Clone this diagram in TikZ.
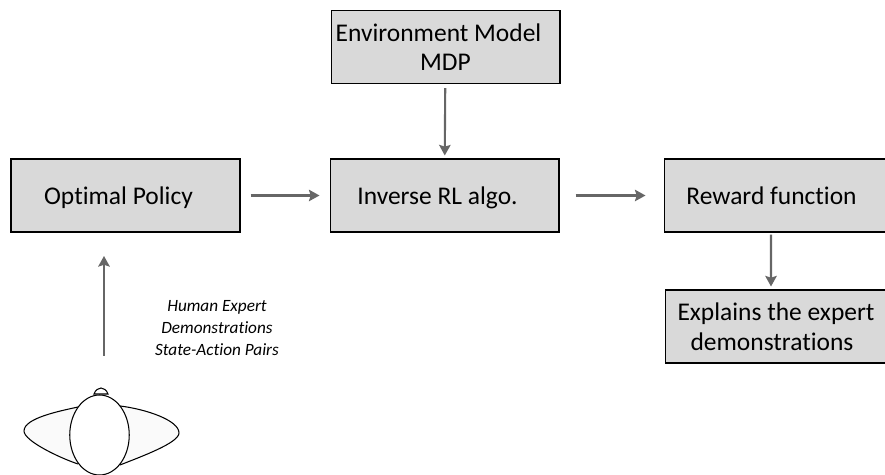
\documentclass[tikz,border=0pt]{standalone}
\usepackage{fontspec}
\setmainfont[Ligatures=NoCommon]{Carlito}
\usetikzlibrary{arrows.meta,shapes.geometric}
\begin{document}
\begin{tikzpicture}[x=0.02cm,y=0.02cm,
    block/.style={draw=black,fill=black!15,line width=0.6pt,minimum width=4.58cm,minimum height=1.46cm,inner sep=0pt,align=center,font=\fontsize{14.5}{16.8}\selectfont},
    oneline/.style={block,text height=12.7pt,text depth=3pt},
    flow/.style={draw=black!60,line width=1.2pt,-{Stealth[length=6pt,width=6.5pt,inset=1pt]}}]
    \useasboundingbox (0,0) rectangle (885,-475);
    \node [oneline] (policy) at (125.5,-195.5) {Optimal Policy\hspace*{0.28cm}};
    \node [block] (model) at (445.5,-47) {Environment Model\hspace*{0.28cm}\\MDP};
    \node [oneline] (irl) at (444.5,-195.5) {Inverse RL algo.\hspace*{0.28cm}};
    \node [oneline] (reward) at (778.5,-195.5) {Reward function\hspace*{0.28cm}};
    \node [block] (explain) at (779.5,-326.5) {Explains the expert\hspace*{0.14cm}\\demonstrations\hspace*{0.3cm}};
    % person seen from above
    \draw [black,fill=black!2,line width=0.6pt] (78,-407) .. controls (60,-411) and (24,-418) .. (24,-431) .. controls (24,-441) and (60,-458) .. (78,-464);
    \draw [black,fill=black!2,line width=0.6pt] (120,-406) .. controls (145,-409) and (179,-420) .. (179,-433) .. controls (179,-443) and (140,-457) .. (120,-465);
    \draw [black,fill=white,line width=0.6pt] (94,-394) .. controls (97,-386) and (105,-386) .. (108,-394) -- cycle;
    \node [draw=black,fill=white,ellipse,line width=0.6pt,minimum width=1.19cm,minimum height=1.6cm,inner sep=0pt] (head) at (99.5,-435) {};
    \node [align=center,inner sep=0pt,font=\fontsize{9.8}{12.4}\selectfont\itshape] (note) at (217,-328) {Human Expert\\Demonstrations\\State-Action Pairs};
    \coordinate (start) at (104,-356);
    \coordinate (end) at (104,-256);
    % connectors
    \draw [flow,line width=1.7pt] (start) -- (end);
    \draw [flow,shorten <=0.2cm,shorten >=0.2cm] (policy) -- (irl);
    \draw [flow,shorten <=0.08cm,shorten >=0.06cm] (model) -- (irl);
    \draw [flow,shorten <=0.32cm,shorten >=0.36cm] (irl) -- (reward);
    \draw [flow,shorten <=0.04cm,shorten >=0.06cm] ([xshift=-0.15cm]reward.south) -- ([xshift=-0.17cm]explain.north);
\end{tikzpicture}
\end{document}
